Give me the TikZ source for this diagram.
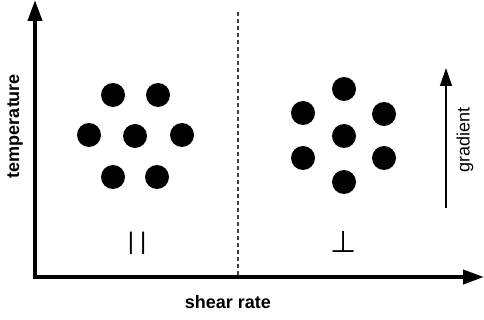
\documentclass[tikz,border=0pt]{standalone}
\usepackage{fontspec}
\setmainfont{Liberation Sans}
\newfontfamily\symfont{DejaVu Sans}
\usetikzlibrary{arrows.meta, positioning, calc}

\begin{document}
\begin{tikzpicture}[
    x=1pt, y=-1pt,
    axis/.style={line width=4pt, -{Triangle[length=21pt, width=14pt]}},
    grad/.style={line width=1.5pt, -{Triangle[length=18pt, width=12pt]}},
    blob/.style={circle, fill=black, inner sep=0pt, minimum size=24pt},
    label/.style={font=\fontsize{18}{20}\selectfont\bfseries},
    symb/.style={font=\fontsize{24}{26}\selectfont, inner sep=0pt},
]
\useasboundingbox (0,0) rectangle (484,320);

% axes
\coordinate (origin) at (35,277);
\coordinate (ytip) at (35,0);
\coordinate (xtip) at (484,277);
\draw[axis] ([yshift=-2pt]origin) -- (ytip);
\draw[axis] ([xshift=-2pt]origin) -- (xtip);

% dividing line
\coordinate (dtop) at (238,12);
\coordinate (dbot) at (238,277);
\draw[dash pattern=on 4pt off 3pt, line width=1.1pt, black!75] (dtop) -- (dbot);

% parallel arrangement
\foreach \n/\p in {a1/{113,95}, a2/{158,95}, a3/{89,135}, a4/{135,136},
                   a5/{182,135}, a6/{113,177}, a7/{157,177}}
    \node[blob] (\n) at (\p) {};

% perpendicular arrangement
\foreach \n/\p in {b1/{344,89}, b2/{303,113}, b3/{384,114}, b4/{344,136},
                   b5/{303,158}, b6/{384,158}, b7/{344,182}}
    \node[blob] (\n) at (\p) {};

\node[symb] (par) at (137,243) {|\hspace{6pt}|};
\node[symb, font=\fontsize{30}{32}\selectfont] (perp) at (344,242) {\symfont ⊥};

% gradient arrow
\coordinate (gbot) at (446,208);
\coordinate (gtop) at (446,68);
\draw[grad] (gbot) -- (gtop);
\node[rotate=90, font=\fontsize{18}{20}\selectfont] (gradlab) at (465,140) {gradient};

\node[label] (xlab) at (228,302) {shear rate};
\node[label, rotate=90] (ylab) at (15,126) {temperature};

\end{tikzpicture}
\end{document}
